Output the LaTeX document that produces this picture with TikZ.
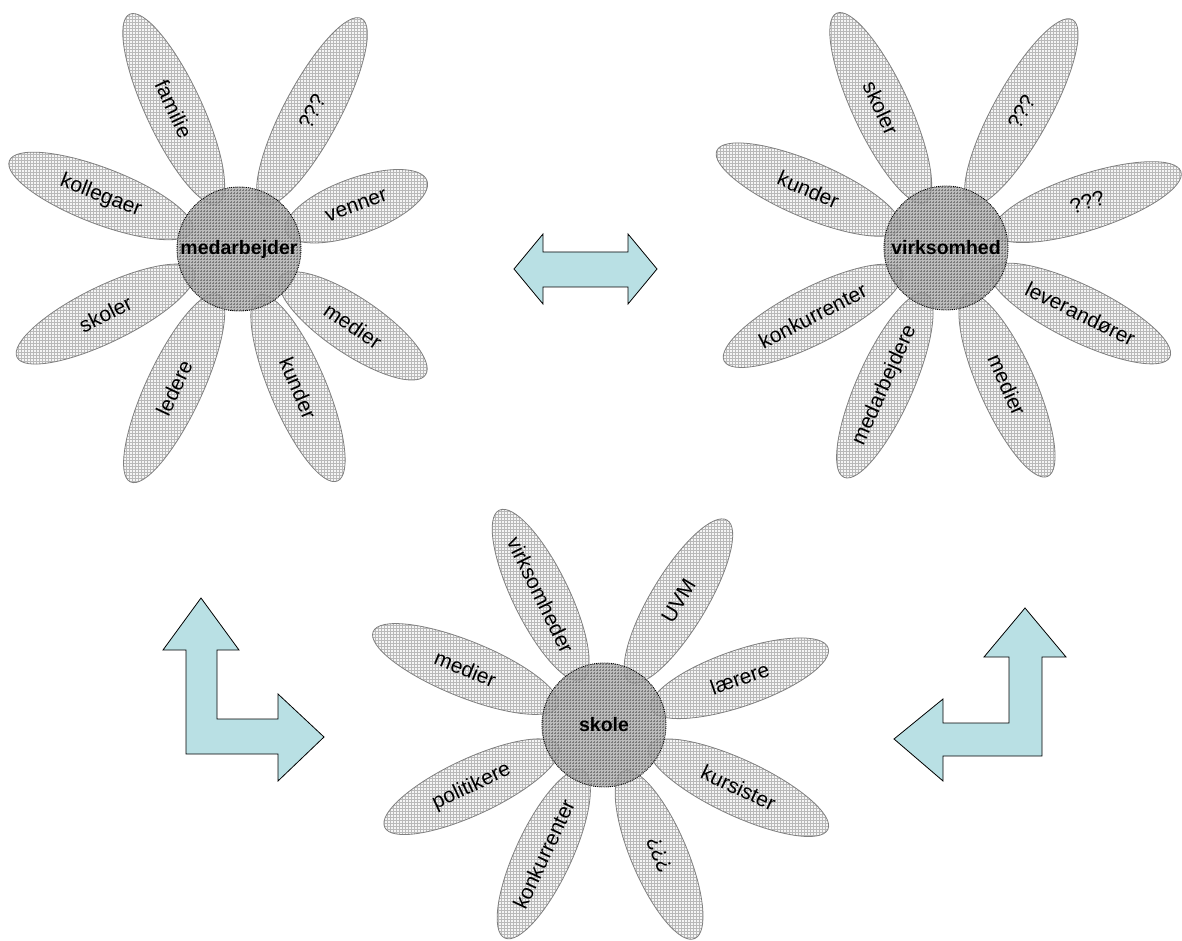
\documentclass[tikz,border=0pt]{standalone}
\usepackage{fontspec}
\setmainfont{Liberation Sans}
\usetikzlibrary{%
  calc,%
  patterns,%
  shapes.geometric%
}
\definecolor{arrowblue}{RGB}{185,224,228}
\tikzset{
  petal/.style={ellipse,draw=gray,line width=0.8pt,minimum height=56,inner sep=0pt,
    preaction={fill=gray!8},pattern=grid,pattern color=gray!55,
    font=\fontsize{21}{24}\selectfont},
  heart/.style={circle,draw=black,densely dotted,line width=0.9pt,minimum size=124,inner sep=0pt,
    preaction={fill=black!33,fill opacity=0.8},pattern=grid,pattern color=black!52,
    fill opacity=0.8,text opacity=1,font=\fontsize{19.5}{22}\selectfont\bfseries},
  blockarrow/.style={draw=black,line width=0.8pt,fill=arrowblue,line join=miter}
}

\begin{document}
\begin{tikzpicture}[x=1pt,y=1pt]
  \useasboundingbox (0,0) rectangle (1182,940);
  \coordinate (med) at (239,691);
  \coordinate (virk) at (946,692);
  \coordinate (sko) at (604,215);

  \foreach \ang/\tip/\rot/\txt [count=\i] in {115/259/-65/familie, 62/261/62/???,
      20/200/20/venner, -34/225/-34/medier, -67/252/-67/kunder, -115/257/65/ledere,
      -154/247/26/skoler, 159/246/-21/kollegaer}{
    \pgfmathsetmacro\plen{\tip-50}
    \pgfmathsetmacro\pdist{(\tip+50)/2}
    \node[petal,minimum width=\plen,rotate=\rot] (med-\i) at ($(med)+(\ang:\pdist)$) {\txt};
  }
  \foreach \ang/\tip/\rot/\txt [count=\i] in {115/259/-65/skoler, 61/261/61/???,
      18/247/18/???, -26/249/-26/leverandører, -66/250/-66/medier,
      -114/251/66/medarbejdere, -153/249/27/konkurrenter, 157/249/-23/kunder}{
    \pgfmathsetmacro\plen{\tip-50}
    \pgfmathsetmacro\pdist{(\tip+50)/2}
    \node[petal,minimum width=\plen,rotate=\rot] (virk-\i) at ($(virk)+(\ang:\pdist)$) {\txt};
  }
  \foreach \ang/\tip/\rot/\txt [count=\i] in {116/239/-64/virksomheder, 59/239/59/UVM,
      19/237/19/lærere, -25/247/-25/kursister, -67/232/113/???,
      -115/235/65/konkurrenter, -155/242/25/politikere, 158/249/-22/medier}{
    \pgfmathsetmacro\plen{\tip-50}
    \pgfmathsetmacro\pdist{(\tip+50)/2}
    \node[petal,minimum width=\plen,rotate=\rot] (sko-\i) at ($(sko)+(\ang:\pdist)$) {\txt};
  }

  \node[heart] (medarbejder) at (med) {medarbejder};
  \node[heart] (virksomhed) at (virk) {virksomhed};
  \node[heart] (skole) at (sko) {skole};

  \draw[blockarrow] (514,671) -- (543,706) -- (543,688) -- (628,688) -- (628,706)
    -- (657,671) -- (628,636) -- (628,653) -- (543,653) -- (543,636) -- cycle;
  \draw[blockarrow] (201,342) -- (239,290) -- (217,290) -- (217,221) -- (278,221)
    -- (278,246) -- (324,203) -- (278,159) -- (278,186) -- (186,186) -- (186,290)
    -- (163,290) -- cycle;
  \draw[blockarrow] (1025,332) -- (1066,283) -- (1042,283) -- (1042,184) -- (943,184)
    -- (943,159) -- (894,201) -- (943,241) -- (943,217) -- (1009,217) -- (1009,283)
    -- (984,283) -- cycle;
\end{tikzpicture}
\end{document}
